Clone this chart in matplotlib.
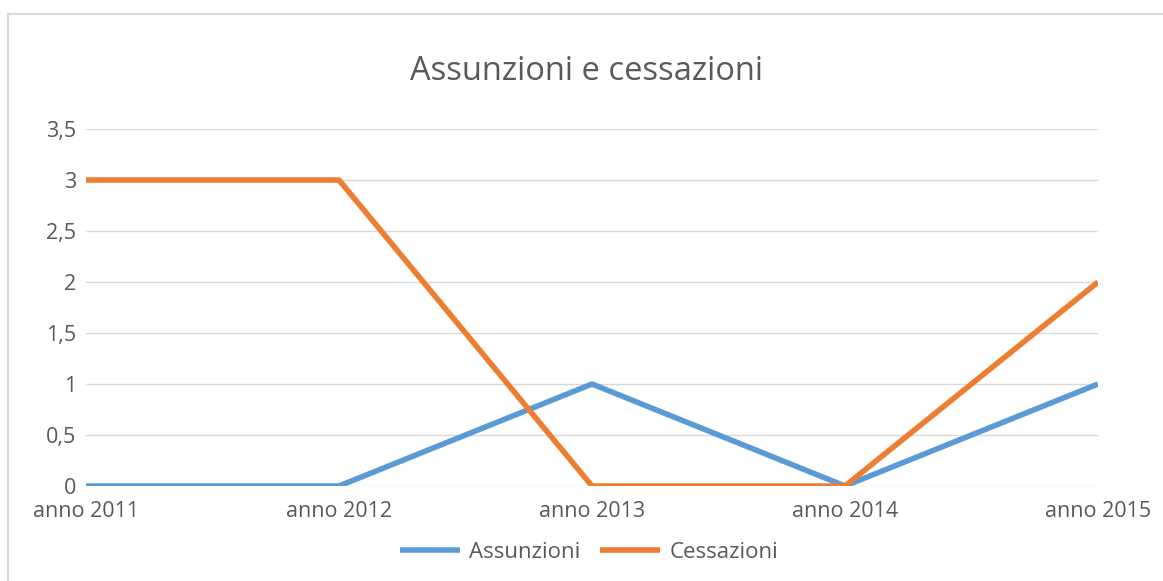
import matplotlib
matplotlib.use("Agg")
import matplotlib.pyplot as plt
from matplotlib.patches import Rectangle
from matplotlib.ticker import FuncFormatter

categories = ["anno 2011", "anno 2012", "anno 2013", "anno 2014", "anno 2015"]
assunzioni = [0, 0, 1, 0, 1]
cessazioni = [3, 3, 0, 0, 2]
yticks = [0, 0.5, 1, 1.5, 2, 2.5, 3, 3.5]

W, H = 1163, 581
fig = plt.figure(figsize=(W / 100, H / 100), dpi=100)
fig.patch.set_facecolor("white")
plt.rcParams['font.family'] = ['Open Sans', 'DejaVu Sans']

# chart border
fig.patches.append(Rectangle((8 / W, -0.1), 1.2, (H - 14) / H + 0.1,
                             transform=fig.transFigure, fill=False,
                             edgecolor="#D9D9D9", linewidth=1.5))

ax = fig.add_axes([86 / W, (H - 486) / H, (1098 - 86) / W, (486 - 129) / H])
x = list(range(len(categories)))
ax.plot(x, assunzioni, color="#5B9BD5", linewidth=4, label="Assunzioni",
        solid_capstyle="butt", zorder=3)
ax.plot(x, cessazioni, color="#ED7D31", linewidth=4, label="Cessazioni",
        solid_capstyle="butt", zorder=4)

ax.set_xlim(0, len(categories) - 1)
ax.set_ylim(0, 3.5)
ax.set_yticks(yticks)
ax.yaxis.set_major_formatter(FuncFormatter(lambda v, p: ("%g" % v).replace(".", ",")))
ax.set_xticks(x)
ax.set_xticklabels(categories)
ax.grid(axis="y", color="#D9D9D9", linewidth=1)
ax.set_axisbelow(True)
for s in ax.spines.values():
    s.set_visible(False)
ax.tick_params(axis="both", length=0, colors="#595959", labelsize=15.5)
ax.tick_params(axis="y", pad=7)
ax.tick_params(axis="x", pad=11)

fig.text(587 / W, 1 - 72 / H, "Assunzioni e cessazioni", ha="center", va="center",
         fontsize=23.5, color="#595959")

leg = fig.legend(loc="center", bbox_to_anchor=(589 / W, 1 - 552 / H), ncol=2,
                 frameon=False, fontsize=16, handlelength=2.7, columnspacing=0.9,
                 handletextpad=0.4)
for t in leg.get_texts():
    t.set_color("#595959")

fig.savefig("out.png", dpi=100, facecolor="white")
